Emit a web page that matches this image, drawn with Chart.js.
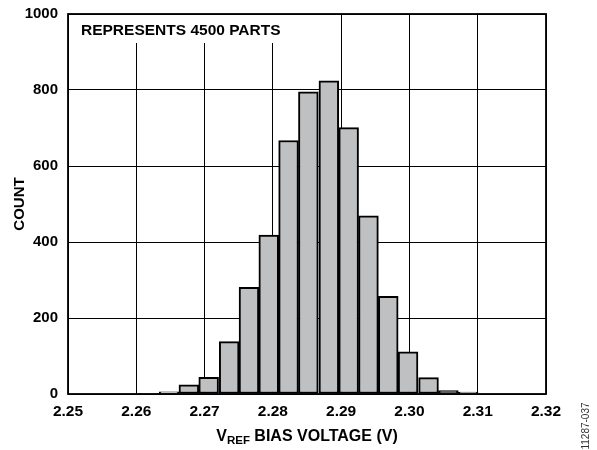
<!DOCTYPE html>
<html>
<head>
<meta charset="utf-8">
<script src="https://cdn.jsdelivr.net/npm/chart.js@4.4.1/dist/chart.umd.min.js"></script>
<style>
  html, body { margin: 0; padding: 0; background: #fff; }
</style>
</head>
<body>
<canvas id="hist" width="597" height="450"></canvas>
<script>
// bin centres (V) and counts
const binCenters = [2.2619, 2.2648, 2.2677, 2.2706, 2.2736, 2.2765, 2.2794, 2.2823, 2.2852,
                    2.2882, 2.2911, 2.2940, 2.2969, 2.2998, 2.3028, 2.3057, 2.3086];
const partCounts = [2, 6, 24, 44, 138, 281, 418, 667, 795, 824, 701, 469, 257, 111, 43, 9, 5];
const xTickValues = [2.25, 2.26, 2.27, 2.28, 2.29, 2.30, 2.31, 2.32];
const yTickValues = [0, 200, 400, 600, 800, 1000];

const FONT = "'Liberation Sans', Arial, Helvetica, sans-serif";

// titles, frame and the note box
const labelsPlugin = {
    id: 'labels',
    beforeDatasetsDraw(chart) {
        const ctx = chart.ctx;
        const a = chart.chartArea;
        ctx.save();
        ctx.fillStyle = '#fff';
        ctx.fillRect(a.left + 1, a.top + 1, 222, 28);
        ctx.fillStyle = '#000';
        ctx.font = 'bold 15.5px ' + FONT;
        ctx.textBaseline = 'alphabetic';
        ctx.fillText('REPRESENTS 4500 PARTS', a.left + 13, a.top + 21);
        ctx.restore();
    },
    afterDraw(chart) {
        const ctx = chart.ctx;
        const a = chart.chartArea;
        ctx.save();
        ctx.strokeStyle = '#000';
        ctx.lineWidth = 1.8;
        ctx.strokeRect(a.left, a.top, a.right - a.left, a.bottom - a.top);

        // y title
        ctx.fillStyle = '#000';
        ctx.font = 'bold 15px ' + FONT;
        ctx.textAlign = 'center';
        ctx.textBaseline = 'middle';
        ctx.save();
        ctx.translate(20, (a.top + a.bottom) / 2);
        ctx.rotate(-Math.PI / 2);
        ctx.fillText('COUNT', 0, 0);
        ctx.restore();

        // x title with subscript
        const big = 'bold 16px ' + FONT;
        const small = 'bold 11.5px ' + FONT;
        ctx.textAlign = 'left';
        ctx.textBaseline = 'alphabetic';
        ctx.font = big;
        const w1 = ctx.measureText('V').width;
        const w3 = ctx.measureText(' BIAS VOLTAGE (V)').width;
        ctx.font = small;
        const w2 = ctx.measureText('REF').width;
        let x = (a.left + a.right) / 2 - (w1 + w2 + w3) / 2;
        const base = 441;
        ctx.font = big;
        ctx.fillText('V', x, base);
        x += w1;
        ctx.font = small;
        ctx.fillText('REF', x, base + 3);
        x += w2;
        ctx.font = big;
        ctx.fillText(' BIAS VOLTAGE (V)', x, base);

        // figure id
        ctx.font = '10px ' + FONT;
        ctx.fillStyle = '#333';
        ctx.textAlign = 'center';
        ctx.textBaseline = 'middle';
        ctx.translate(586, 426);
        ctx.rotate(-Math.PI / 2);
        ctx.fillText('11287-037', 0, 0);
        ctx.restore();
    }
};

new Chart(document.getElementById('hist'), {
    type: 'bar',
    data: {
        datasets: [{
            data: binCenters.map((v, i) => ({ x: v, y: partCounts[i] })),
            backgroundColor: '#bfc0c2',
            borderColor: '#000',
            borderWidth: 2,
            borderSkipped: false,
            barPercentage: 1,
            categoryPercentage: 1
        }]
    },
    options: {
        responsive: false,
        animation: false,
        events: [],
        layout: { padding: { left: 0, right: 51, top: 14, bottom: 0 } },
        plugins: { legend: { display: false }, tooltip: { enabled: false } },
        scales: {
            x: {
                type: 'linear',
                min: 2.25,
                max: 2.32,
                offset: false,
                grid: { offset: false, color: '#000', lineWidth: 1, drawTicks: false },
                border: { display: false },
                afterBuildTicks: s => { s.ticks = xTickValues.map(v => ({ value: v })); },
                afterFit: s => { s.height = 56; },
                ticks: {
                    padding: 8,
                    color: '#000',
                    font: { family: FONT, size: 15.5, weight: 'bold' },
                    maxRotation: 0,
                    callback: v => v.toFixed(2)
                }
            },
            y: {
                min: 0,
                max: 1000,
                grid: { color: '#000', lineWidth: 1, drawTicks: false },
                border: { display: false },
                afterBuildTicks: s => { s.ticks = yTickValues.map(v => ({ value: v })); },
                afterFit: s => { s.width = 68; s.paddingTop = 0; s.paddingBottom = 0; },
                ticks: {
                    padding: 10,
                    color: '#000',
                    font: { family: FONT, size: 15, weight: 'bold' },
                    callback: v => String(v)
                }
            }
        }
    },
    plugins: [labelsPlugin]
});
</script>
</body>
</html>
